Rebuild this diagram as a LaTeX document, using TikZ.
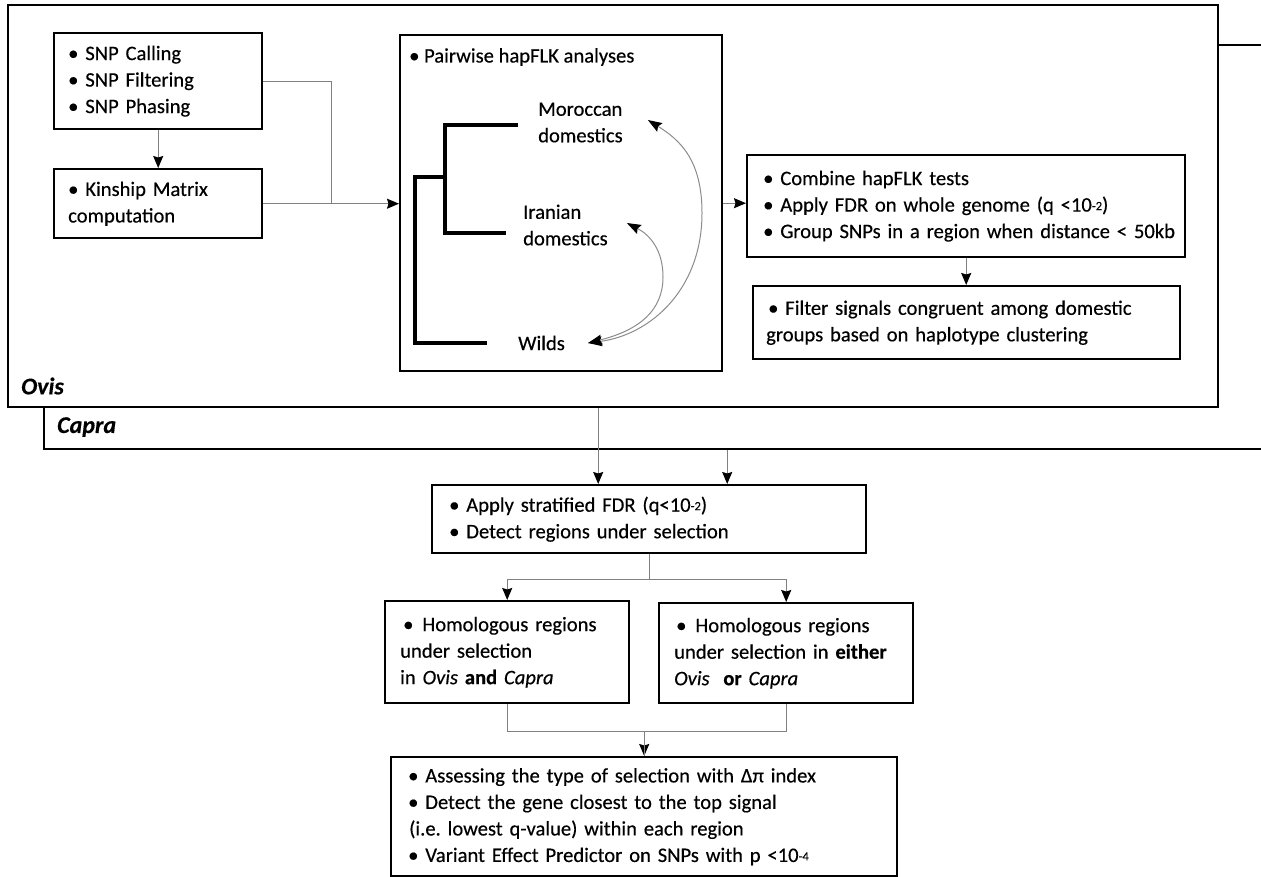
\documentclass[tikz,border=0pt]{standalone}
\usepackage{fontspec}
\setmainfont{Carlito}[FakeBold=0.35]
\usetikzlibrary{arrows.meta,calc}
\newcommand\smexp[1]{\raisebox{1.5pt}{\fontsize{12.5}{12.5}\selectfont #1}}
\frenchspacing
\begin{document}
\begin{tikzpicture}[x=1pt,y=-1pt,
  fs/.style={font=\fontsize{20.6}{26.5}\selectfont},
  box/.style={draw=black, line width=2.4pt, fill=white, anchor=north west, align=left, inner xsep=14pt, inner ysep=0pt, fs},
  frame/.style={draw=black, line width=2.4pt, anchor=north west, inner sep=0pt},
  conn/.style={draw=black!50, line width=1.2pt},
  arr/.style={conn, -{Stealth[length=12pt,width=10pt,inset=1.5pt,color=black]}},
  curv/.style={draw=black!45, line width=1pt, {Stealth[length=14pt,width=10pt,inset=2pt,color=black]}-{Stealth[length=14pt,width=10pt,inset=2pt,color=black]}},
  tree/.style={draw=black, line width=4pt, line join=miter},
  lab/.style={anchor=west, inner sep=0pt, fs, align=left},
  grp/.style={anchor=west, inner sep=0pt, font=\fontsize{24}{26}\selectfont\bfseries\itshape}
]
\useasboundingbox (0,0) rectangle (1261,877);

% outer frames
\node[frame, minimum width=1235pt, minimum height=404pt] (capra) at (43,44) {};
\node[grp] (capralab) at (57,427) {Capra};
\node[frame, fill=white, minimum width=1210pt, minimum height=402pt] (ovis) at (7,4) {};
\node[grp] (ovislab) at (21,386) {Ovis};

% Ovis boxes
\node[box, text width=180pt, minimum height=96pt] (snp) at (53,32)
  {\mbox{• SNP Calling}\\\mbox{• SNP Filtering}\\\mbox{• SNP Phasing}};
\node[box, text width=180pt, minimum height=69pt] (kin) at (53,168)
  {\mbox{• Kinship Matrix}\\\mbox{computation}};

\node[frame, minimum width=322pt, minimum height=336pt] (pair) at (399,34) {};
\node[lab] (ptitle) at (409,57) {• Pairwise hapFLK analyses};

\node[lab] (mor) at (538,122.5) {Moroccan\\domestics};
\node[lab] (ira) at (523,225) {Iranian\\domestics};
\node[lab] (wilds) at (518,343) {Wilds};

\draw[tree] (518,125) -- (445,125) -- (445,233) -- (506,233);
\draw[tree] (445,177) -- (415,177) -- (415,343) -- (487,343);

\draw[curv] ([xshift=23pt]wilds.east) .. controls (650,335) and (702,290) .. (702,213)
  .. controls (702,160) and (680,140) .. ([xshift=25pt,yshift=2.5pt]mor.east);
\draw[curv] ([xshift=23pt]wilds.east) .. controls (640,330) and (663,310) .. (663,277)
  .. controls (663,250) and (650,235) .. ([xshift=19pt,yshift=2pt]ira.east);

\node[box, inner xsep=16pt, text width=406pt, minimum height=102pt] (comb) at (746,154)
  {\mbox{• Combine hapFLK tests}\\\mbox{• Apply FDR on whole genome (q <10\smexp{-2})}\\\mbox{• Group SNPs in a region when distance < 50kb}};
\node[box, inner xsep=13pt, text width=401pt, minimum height=73pt] (filt) at (752,285)
  {\mbox{\hspace*{2pt}• Filter signals congruent among domestic}\\\mbox{groups based on haplotype clustering}};

% lower boxes
\node[box, inner xsep=17pt, text width=400pt, minimum height=68pt] (strat) at (431,484)
  {\mbox{• Apply stratified FDR (q<10\smexp{-2})}\\\mbox{• Detect regions under selection}};
\node[box, inner xsep=15pt, text width=214pt, minimum height=102pt] (hl) at (384,600)
  {\mbox{\hspace*{3pt}•\hspace{9pt}Homologous regions}\\\mbox{under selection}\\\mbox{in \textit{Ovis} \textbf{and} \textit{Capra}}};
\node[box, inner xsep=15pt, text width=224pt, minimum height=100pt] (hr) at (658,602)
  {\mbox{\hspace*{2pt}•\hspace{9pt}Homologous regions}\\\mbox{under selection in \textbf{either}}\\\mbox{\textit{Ovis}\ \ \textbf{or} \textit{Capra}}};
\node[box, inner xsep=17pt, text width=472pt, minimum height=119pt] (bot) at (390,756)
  {\mbox{• Assessing the type of selection with Δπ index}\\\mbox{• Detect the gene closest to the top signal}\\\mbox{\hspace*{1pt}(i.e. lowest q-value) within each region}\\\mbox{• Variant Effect Predictor on SNPs with p <10\smexp{-4}}};

% connectors
\coordinate (j1) at ($(kin.east)!0.5!(pair.west)$);
\draw[arr] (snp.south) -- (kin.north);
\draw[conn] (snp.east) -| (j1);
\draw[arr] (kin.east) -- (kin.east -| pair.west);
\draw[arr] (pair.east) -- (pair.east -| comb.west);
\draw[arr] (comb.south) -- (comb.south |- filt.north);

\coordinate (s1) at ([xshift=-51pt]strat.north);
\coordinate (s2) at ([xshift=78pt]strat.north);
\draw[arr] (s1 |- ovis.south) -- (s1);
\draw[arr] (s2 |- capra.south) -- (s2);

\draw[arr] (strat.south) -- ++(0,25) -| (hl.north);
\draw[arr] (strat.south) -- ++(0,25) -| (hr.north);
\draw[arr] (hl.south) -- ++(0,27) -| (bot.north);
\draw[conn] (hr.south) -- ++(0,27) -| (bot.north);
\end{tikzpicture}
\end{document}
